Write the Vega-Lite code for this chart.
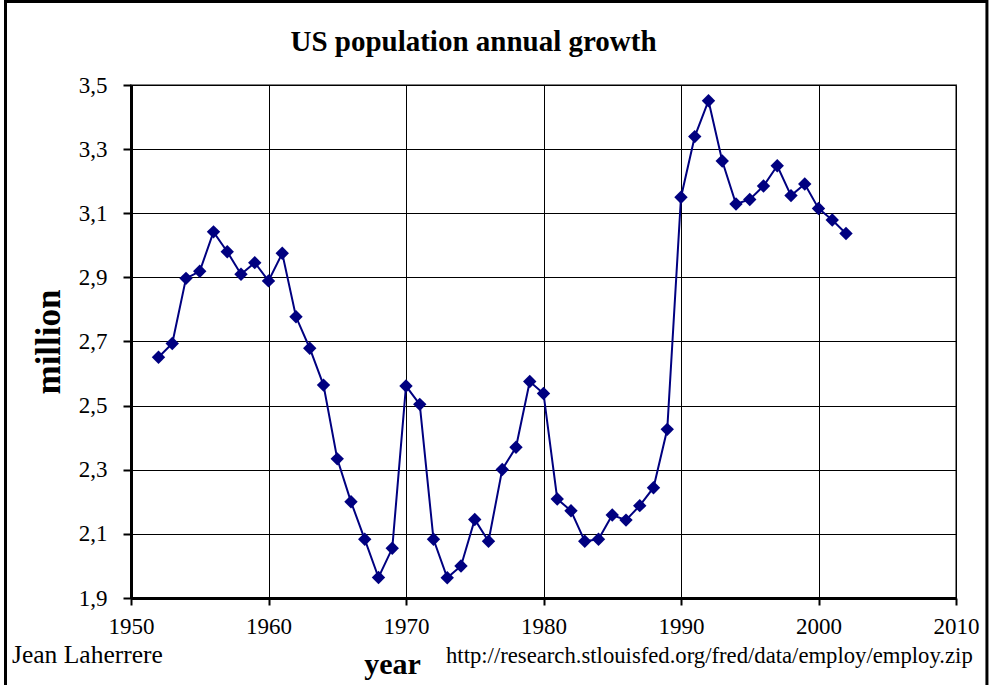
{
  "$schema": "https://vega.github.io/schema/vega-lite/v6.json",
  "width": 825,
  "height": 513,
  "autosize": {"type": "none"},
  "padding": {"left": 131, "top": 85, "right": 33, "bottom": 87},
  "background": "white",
  "title": {
    "text": "US population annual growth",
    "font": "Liberation Serif",
    "fontSize": 29,
    "fontWeight": "bold",
    "color": "black",
    "anchor": "middle",
    "frame": "group",
    "dx": -70,
    "baseline": "alphabetic",
    "offset": -80
  },
  "config": {
    "view": {"stroke": "#808080", "strokeWidth": 2},
    "font": "Liberation Serif"
  },
  "data": {
    "values": [
      {"year": 1952, "growth": 2.651},
      {"year": 1953, "growth": 2.694},
      {"year": 1954, "growth": 2.897},
      {"year": 1955, "growth": 2.919},
      {"year": 1956, "growth": 3.042},
      {"year": 1957, "growth": 2.980},
      {"year": 1958, "growth": 2.910},
      {"year": 1959, "growth": 2.946},
      {"year": 1960, "growth": 2.889},
      {"year": 1961, "growth": 2.975},
      {"year": 1962, "growth": 2.777},
      {"year": 1963, "growth": 2.679},
      {"year": 1964, "growth": 2.564},
      {"year": 1965, "growth": 2.334},
      {"year": 1966, "growth": 2.200},
      {"year": 1967, "growth": 2.083},
      {"year": 1968, "growth": 1.964},
      {"year": 1969, "growth": 2.055},
      {"year": 1970, "growth": 2.561},
      {"year": 1971, "growth": 2.504},
      {"year": 1972, "growth": 2.083},
      {"year": 1973, "growth": 1.963},
      {"year": 1974, "growth": 2.000},
      {"year": 1975, "growth": 2.145},
      {"year": 1976, "growth": 2.077},
      {"year": 1977, "growth": 2.301},
      {"year": 1978, "growth": 2.370},
      {"year": 1979, "growth": 2.575},
      {"year": 1980, "growth": 2.538},
      {"year": 1981, "growth": 2.209},
      {"year": 1982, "growth": 2.172},
      {"year": 1983, "growth": 2.077},
      {"year": 1984, "growth": 2.083},
      {"year": 1985, "growth": 2.159},
      {"year": 1986, "growth": 2.143},
      {"year": 1987, "growth": 2.188},
      {"year": 1988, "growth": 2.244},
      {"year": 1989, "growth": 2.426},
      {"year": 1990, "growth": 3.150},
      {"year": 1991, "growth": 3.339},
      {"year": 1992, "growth": 3.451},
      {"year": 1993, "growth": 3.263},
      {"year": 1994, "growth": 3.129},
      {"year": 1995, "growth": 3.143},
      {"year": 1996, "growth": 3.185},
      {"year": 1997, "growth": 3.248},
      {"year": 1998, "growth": 3.155},
      {"year": 1999, "growth": 3.191},
      {"year": 2000, "growth": 3.115},
      {"year": 2001, "growth": 3.079},
      {"year": 2002, "growth": 3.037}
    ]
  },
  "layer": [
    {
      "mark": {"type": "line", "color": "#000080", "strokeWidth": 2},
      "encoding": {
        "x": {
          "field": "year",
          "type": "quantitative",
          "scale": {"domain": [1950, 2010], "nice": false, "zero": false},
          "axis": {
            "values": [1950, 1960, 1970, 1980, 1990, 2000, 2010],
            "format": "d",
            "title": "year",
            "titleX": 261,
            "titleY": 75,
            "titleBaseline": "alphabetic",
            "titleFont": "Liberation Serif",
            "titleFontSize": 30,
            "titleFontWeight": "bold",
            "titleColor": "black",
            "labelFont": "Liberation Serif",
            "labelFontSize": 23,
            "labelColor": "black",
            "labelPadding": 10,
            "labelFlush": false,
            "labelOverlap": false,
            "tickSize": 7,
            "tickColor": "black",
            "tickWidth": 2,
            "domainColor": "black",
            "domainWidth": 3,
            "grid": true,
            "gridColor": "black",
            "gridWidth": 1,
            "gridOpacity": 1
          }
        },
        "y": {
          "field": "growth",
          "type": "quantitative",
          "scale": {"domain": [1.9, 3.5], "nice": false, "zero": false},
          "axis": {
            "values": [1.9, 2.1, 2.3, 2.5, 2.7, 2.9, 3.1, 3.3, 3.5],
            "labelExpr": "replace(format(datum.value, '.1f'), '.', ',')",
            "title": "million",
            "titlePadding": 12,
            "titleFont": "Liberation Serif",
            "titleFontSize": 35,
            "titleFontWeight": "bold",
            "titleColor": "black",
            "labelFont": "Liberation Serif",
            "labelFontSize": 23,
            "labelColor": "black",
            "labelPadding": 16,
            "labelFlush": false,
            "labelOverlap": false,
            "tickSize": 8,
            "tickColor": "black",
            "tickWidth": 2,
            "domainColor": "black",
            "domainWidth": 3,
            "grid": true,
            "gridColor": "black",
            "gridWidth": 1,
            "gridOpacity": 1
          }
        }
      }
    },
    {
      "mark": {"type": "point", "shape": "diamond", "filled": true, "size": 180, "color": "#000080", "opacity": 1},
      "encoding": {
        "x": {"field": "year", "type": "quantitative"},
        "y": {"field": "growth", "type": "quantitative"}
      }
    },
    {
      "data": {"values": [{"label": "Jean Laherrere"}]},
      "mark": {"type": "text", "align": "left", "baseline": "alphabetic", "font": "Liberation Serif", "fontSize": 25.5, "color": "black"},
      "encoding": {
        "x": {"datum": 1941.35, "type": "quantitative"},
        "y": {"datum": 1.697, "type": "quantitative"},
        "text": {"field": "label"}
      }
    },
    {
      "data": {"values": [{"label": "http://research.stlouisfed.org/fred/data/employ/employ.zip"}]},
      "mark": {"type": "text", "align": "left", "baseline": "alphabetic", "font": "Liberation Serif", "fontSize": 22.7, "color": "black"},
      "encoding": {
        "x": {"datum": 1972.91, "type": "quantitative"},
        "y": {"datum": 1.697, "type": "quantitative"},
        "text": {"field": "label"}
      }
    },
    {
      "data": {"values": [{"label": "frame"}]},
      "mark": {"type": "rect", "filled": false, "stroke": "black", "strokeWidth": 3},
      "encoding": {
        "x": {"datum": 1940.873, "type": "quantitative"},
        "x2": {"datum": 2012.25},
        "y": {"datum": 3.7604, "type": "quantitative"},
        "y2": {"datum": 1.613}
      }
    }
  ]
}
